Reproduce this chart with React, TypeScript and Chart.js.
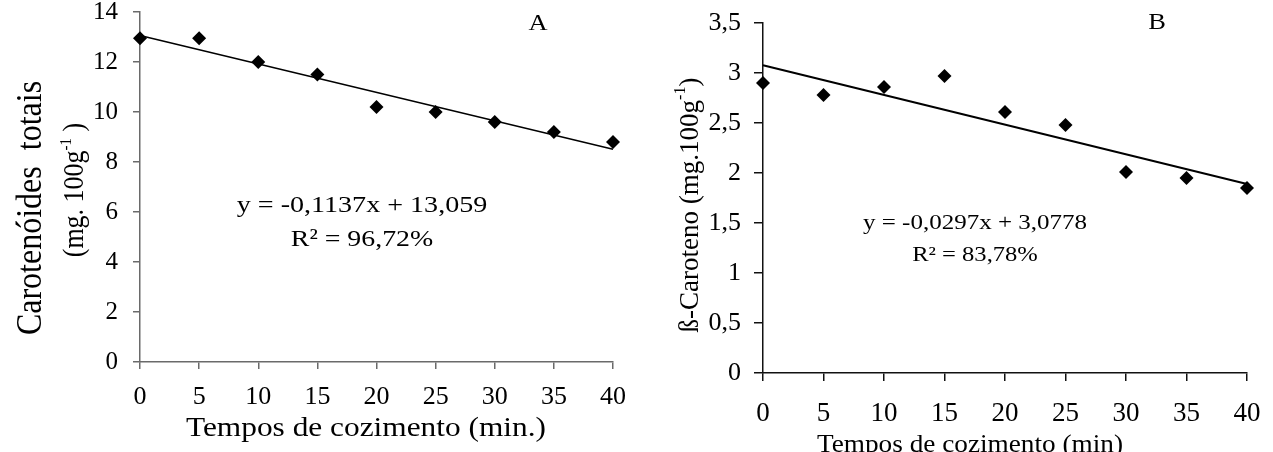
import React, { useEffect, useRef } from 'react';
import { Chart, registerables } from 'chart.js';

Chart.register(...registerables);

// ---------- data ----------
const times = [0, 5, 10, 15, 20, 25, 30, 35, 40];
const carotenoidesTotais = [12.95, 12.95, 12.0, 11.5, 10.2, 10.0, 9.6, 9.2, 8.8];
const betaCaroteno = [2.9, 2.78, 2.86, 2.97, 2.61, 2.48, 2.01, 1.95, 1.85];

const trendX = [0, 40];
const trendA = [13.059, 8.511];
const trendB = [3.0778, 1.8898];

const xTickValues = [0, 5, 10, 15, 20, 25, 30, 35, 40];
const yTickValuesA = [0, 2, 4, 6, 8, 10, 12, 14];
const yTickValuesB = [0, 0.5, 1, 1.5, 2, 2.5, 3, 3.5];
const yTickLabelsB = ['0', '0,5', '1', '1,5', '2', '2,5', '3', '3,5'];

const equationA = ['y = -0,1137x + 13,059', 'R\u00B2 = 96,72%'];
const equationB = ['y = -0,0297x + 3,0778', 'R\u00B2 = 83,78%'];
const xTitleA = 'Tempos de cozimento (min.)';
const xTitleB = 'Tempos de cozimento (min)';
const yTitleA1 = 'Carotenóides  totais';
const yTitleA2 = ['(mg. 100g', '-1', ' )'];
const yTitleB = ['\u00DF-Caroteno (mg.100g', '-1', ')'];
const panelA = 'A';
const panelB = 'B';

// ---------- helpers ----------
const FAMILY = '"Liberation Serif", "Times New Roman", serif';

type Seg = { t: string; size: number; dy?: number };
type TextItem = { segs: Seg[]; x: number; y: number; rot?: number; sx?: number };

function drawRich(ctx: CanvasRenderingContext2D, item: TextItem) {
  ctx.save();
  ctx.translate(item.x, item.y);
  if (item.sx) ctx.scale(item.sx, 1);
  if (item.rot) ctx.rotate(item.rot);
  ctx.textAlign = 'left';
  ctx.textBaseline = 'alphabetic';
  ctx.fillStyle = '#000';
  let total = 0;
  const widths = item.segs.map((s) => {
    ctx.font = `${s.size}px ${FAMILY}`;
    const w = ctx.measureText(s.t).width;
    total += w;
    return w;
  });
  let cx = -total / 2;
  item.segs.forEach((s, i) => {
    ctx.font = `${s.size}px ${FAMILY}`;
    ctx.fillText(s.t, cx, s.dy || 0);
    cx += widths[i];
  });
  ctx.restore();
}

function textPlugin(items: TextItem[]) {
  return {
    id: 'richTexts',
    afterDraw(chart: any) {
      items.forEach((it) => drawRich(chart.ctx, it));
    },
  };
}

type AxisCfg = {
  yWidth: number;
  xHeight: number;
  axisColor: string;
  lw: number;
  yTickLen: number;
  yPad: number;
  yFont: number;
  xTickLen: number;
  xPad: number;
  xFont: number;
  yMax: number;
  yTicks: number[];
  yLabels?: string[];
};

function makeScales(c: AxisCfg) {
  return {
    x: {
      type: 'linear',
      min: 0,
      max: 40,
      afterBuildTicks: (s: any) => {
        s.ticks = xTickValues.map((v) => ({ value: v }));
      },
      afterFit: (s: any) => {
        s.height = c.xHeight;
        s.paddingLeft = 0;
        s.paddingRight = 0;
      },
      grid: {
        display: true,
        drawOnChartArea: false,
        drawTicks: true,
        tickLength: c.xTickLen,
        color: c.axisColor,
        lineWidth: c.lw,
      },
      border: { display: true, color: c.axisColor, width: c.lw },
      ticks: {
        color: '#000',
        font: { family: FAMILY, size: c.xFont, lineHeight: 1 },
        padding: c.xPad,
        maxRotation: 0,
        minRotation: 0,
        autoSkip: false,
        callback: (v: any) => String(v),
      },
    },
    y: {
      type: 'linear',
      min: 0,
      max: c.yMax,
      afterBuildTicks: (s: any) => {
        s.ticks = c.yTicks.map((v) => ({ value: v }));
      },
      afterFit: (s: any) => {
        s.width = c.yWidth;
        s.paddingTop = 0;
        s.paddingBottom = 0;
      },
      grid: {
        display: true,
        drawOnChartArea: false,
        drawTicks: true,
        tickLength: c.yTickLen,
        color: c.axisColor,
        lineWidth: c.lw,
      },
      border: { display: true, color: c.axisColor, width: c.lw },
      ticks: {
        color: '#000',
        font: { family: FAMILY, size: c.yFont, lineHeight: 1 },
        padding: c.yPad,
        autoSkip: false,
        callback: (v: any) => {
          if (c.yLabels) {
            const i = c.yTicks.indexOf(Number(v));
            return i >= 0 ? c.yLabels[i] : '';
          }
          return String(v);
        },
      },
    },
  };
}

function makeConfig(
  values: number[],
  trend: number[],
  axis: AxisCfg,
  padding: { top: number; right: number },
  texts: TextItem[],
  lineWidth: number
): any {
  return {
    type: 'scatter',
    data: {
      datasets: [
        {
          data: times.map((t, i) => ({ x: t, y: values[i] })),
          pointStyle: 'rectRot',
          pointRadius: 7,
          pointHoverRadius: 7,
          backgroundColor: '#000',
          borderColor: '#000',
          borderWidth: 0,
          showLine: false,
          clip: false,
        },
        {
          data: trendX.map((x, i) => ({ x, y: trend[i] })),
          showLine: true,
          pointRadius: 0,
          borderColor: '#000',
          borderWidth: lineWidth,
          fill: false,
          clip: false,
        },
      ],
    },
    options: {
      responsive: false,
      animation: false,
      devicePixelRatio: 1,
      events: [],
      layout: { padding: { top: padding.top, right: padding.right, left: 0, bottom: 0 } },
      plugins: { legend: { display: false }, tooltip: { enabled: false }, title: { display: false } },
      scales: makeScales(axis),
    },
    plugins: [textPlugin(texts)],
  };
}

// ---------- component ----------
export default function App() {
  const refA = useRef<HTMLCanvasElement | null>(null);
  const refB = useRef<HTMLCanvasElement | null>(null);

  useEffect(() => {
    const textsA: TextItem[] = [
      { segs: [{ t: panelA, size: 23 }], x: 538, y: 30, sx: 1.15 },
      { segs: [{ t: equationA[0], size: 24 }], x: 362, y: 212, sx: 1.17 },
      { segs: [{ t: equationA[1], size: 24 }], x: 362, y: 246, sx: 1.16 },
      { segs: [{ t: xTitleA, size: 28 }], x: 366, y: 436, sx: 1.12 },
      { segs: [{ t: yTitleA1, size: 32 }], x: 41, y: 208, rot: -Math.PI / 2, sx: 1.12 },
      {
        segs: [
          { t: yTitleA2[0], size: 26 },
          { t: yTitleA2[1], size: 15, dy: -11 },
          { t: yTitleA2[2], size: 26 },
        ],
        x: 83,
        y: 190,
        rot: -Math.PI / 2,
        sx: 1.1,
      },
    ];
    const textsB: TextItem[] = [
      { segs: [{ t: panelB, size: 23 }], x: 517, y: 29, sx: 1.15 },
      { segs: [{ t: equationB[0], size: 21 }], x: 335, y: 229, sx: 1.19 },
      { segs: [{ t: equationB[1], size: 21 }], x: 335, y: 261, sx: 1.17 },
      { segs: [{ t: xTitleB, size: 25 }], x: 330, y: 452, sx: 1.09 },
      {
        segs: [
          { t: yTitleB[0], size: 27 },
          { t: yTitleB[1], size: 16, dy: -12 },
          { t: yTitleB[2], size: 27 },
        ],
        x: 58,
        y: 205,
        rot: -Math.PI / 2,
        sx: 1.05,
      },
    ];

    const chartA = new Chart(
      refA.current as HTMLCanvasElement,
      makeConfig(
        carotenoidesTotais,
        trendA,
        {
          yWidth: 140,
          xHeight: 90,
          axisColor: '#6a6a6a',
          lw: 1.5,
          yTickLen: 7,
          yPad: 15,
          yFont: 25,
          xTickLen: 7,
          xPad: 15,
          xFont: 26,
          yMax: 14,
          yTicks: yTickValuesA,
        },
        { top: 12, right: 27 },
        textsA,
        1.5
      )
    );
    const chartB = new Chart(
      refB.current as HTMLCanvasElement,
      makeConfig(
        betaCaroteno,
        trendB,
        {
          yWidth: 123,
          xHeight: 79,
          axisColor: '#111',
          lw: 1.5,
          yTickLen: 9,
          yPad: 13,
          yFont: 26,
          xTickLen: 8,
          xPad: 19,
          xFont: 27,
          yMax: 3.5,
          yTicks: yTickValuesB,
          yLabels: yTickLabelsB,
        },
        { top: 23, right: 26 },
        textsB,
        2
      )
    );
    return () => {
      chartA.destroy();
      chartB.destroy();
    };
  }, []);

  return (
    <div
      style={{
        position: 'absolute',
        left: 0,
        top: 0,
        width: 1273,
        height: 452,
        background: '#fff',
        overflow: 'hidden',
      }}
    >
      <canvas
        ref={refA}
        width={640}
        height={452}
        style={{ position: 'absolute', left: 0, top: 0, width: 640, height: 452 }}
      />
      <canvas
        ref={refB}
        width={633}
        height={452}
        style={{ position: 'absolute', left: 640, top: 0, width: 633, height: 452 }}
      />
    </div>
  );
}
